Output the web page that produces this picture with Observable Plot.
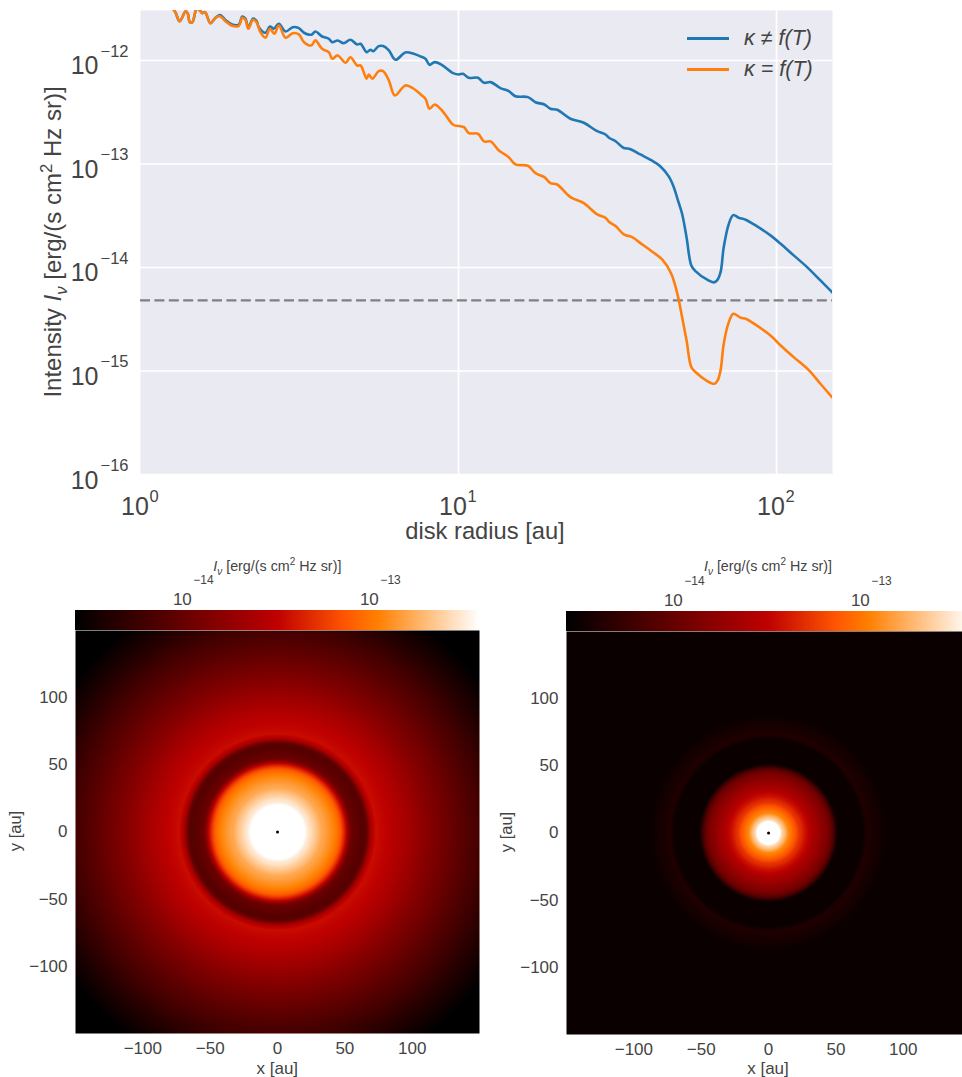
<!DOCTYPE html>
<html><head><meta charset="utf-8">
<script src="https://cdn.jsdelivr.net/npm/d3@7"></script>
<script src="https://cdn.jsdelivr.net/npm/@observablehq/plot@0.6"></script>
<style>
html,body{margin:0;padding:0;background:#fff;width:962px;height:1077px;overflow:hidden;font-family:"Liberation Sans",Arial,sans-serif;color:#444}
.p{position:absolute}
.t{position:absolute;white-space:nowrap;line-height:1}
.t sup{font-size:.7em;line-height:0}
.t sub{font-size:.7em;line-height:0}
.rot{transform:translate(-50%,-50%) rotate(-90deg)}
.ctr{transform:translate(-50%,-50%)}
.leg{position:absolute;height:2.6px}
</style></head><body>
<div id="root"></div>
<script>
// Radial intensity profiles: log10(radius / au), log10(I / erg/(s cm2 Hz sr))
const blueLogR = [.085,.108,.123,.142,.149,.155,.163,.173,.178,.189,.194,.203,.220,.236,.250,.267,.288,.309,.320,.330,.339,.354,.365,.372,.393,.407,.419,.435,.456,.479,.498,.514,.537,.550,.571,.592,.603,.620,.639,.660,.681,.692,.711,.723,.732,.749,.763,.781,.802,.833,.859,.881,.896,.909,.925,.946,.983,1.001,1.014,1.032,1.061,1.080,1.101,1.132,1.158,1.179,1.218,1.242,1.270,1.289,1.310,1.352,1.394,1.436,1.462,1.473,1.494,1.518,1.541,1.572,1.604,1.635,1.661,1.677,1.690,1.703,1.717,1.732,1.745,1.782,1.803,1.813,1.824,1.834,1.850,1.864,1.881,1.903,1.929,1.981,2.013,2.054,2.096,2.138,2.176,2.23,2.28,2.33];
const blueLogI = [-11.45,-11.524,-11.620,-11.524,-11.549,-11.630,-11.630,-11.524,-11.498,-11.524,-11.543,-11.533,-11.640,-11.587,-11.560,-11.608,-11.653,-11.653,-11.575,-11.595,-11.682,-11.595,-11.618,-11.678,-11.732,-11.671,-11.693,-11.645,-11.720,-11.678,-11.688,-11.732,-11.751,-11.720,-11.768,-11.790,-11.823,-11.807,-11.833,-11.800,-11.845,-11.839,-11.919,-11.896,-11.910,-11.861,-11.861,-11.903,-11.993,-11.922,-11.935,-11.961,-11.983,-12.042,-12.016,-12.039,-12.122,-12.135,-12.128,-12.167,-12.167,-12.215,-12.209,-12.267,-12.296,-12.345,-12.354,-12.403,-12.425,-12.466,-12.476,-12.563,-12.602,-12.683,-12.715,-12.747,-12.780,-12.843,-12.857,-12.908,-12.960,-13.024,-13.120,-13.224,-13.352,-13.481,-13.707,-13.980,-14.035,-14.118,-14.144,-14.125,-14.045,-13.803,-13.578,-13.494,-13.519,-13.539,-13.584,-13.690,-13.771,-13.883,-13.996,-14.125,-14.244,-14.45,-14.65,-14.85];
const orangeLogR = [.085,.108,.123,.142,.149,.155,.163,.173,.178,.189,.194,.203,.220,.236,.250,.267,.288,.309,.320,.330,.339,.354,.365,.377,.393,.407,.421,.435,.456,.479,.498,.514,.537,.550,.571,.592,.603,.620,.645,.660,.681,.692,.711,.718,.729,.749,.763,.781,.800,.833,.859,.881,.896,.909,.925,.946,.964,.983,1.017,1.032,1.061,1.080,1.101,1.127,1.158,1.179,1.218,1.242,1.270,1.289,1.310,1.352,1.394,1.436,1.462,1.473,1.494,1.520,1.546,1.572,1.604,1.641,1.669,1.688,1.703,1.717,1.732,1.745,1.782,1.805,1.815,1.824,1.834,1.850,1.864,1.887,1.903,1.929,1.981,2.013,2.054,2.102,2.138,2.176];
const orangeLogI = [-11.45,-11.524,-11.620,-11.524,-11.549,-11.630,-11.630,-11.524,-11.498,-11.524,-11.543,-11.533,-11.640,-11.587,-11.572,-11.620,-11.665,-11.665,-11.587,-11.607,-11.694,-11.607,-11.630,-11.726,-11.780,-11.693,-11.742,-11.662,-11.780,-11.736,-11.748,-11.823,-11.855,-11.806,-11.887,-11.919,-11.983,-11.951,-12.022,-11.968,-12.048,-12.048,-12.176,-12.135,-12.176,-12.103,-12.103,-12.193,-12.338,-12.241,-12.273,-12.328,-12.370,-12.466,-12.425,-12.476,-12.547,-12.621,-12.644,-12.702,-12.708,-12.782,-12.782,-12.869,-12.934,-13.004,-13.017,-13.088,-13.127,-13.185,-13.198,-13.320,-13.378,-13.487,-13.519,-13.558,-13.600,-13.680,-13.706,-13.765,-13.835,-13.925,-14.060,-14.253,-14.479,-14.704,-14.962,-15.010,-15.097,-15.123,-15.091,-14.994,-14.736,-14.528,-14.447,-14.485,-14.495,-14.543,-14.656,-14.753,-14.866,-14.994,-15.123,-15.258];
const detectionLogI = -14.318;
const noiseFloorLogI = -14.565;
const intensityDecades = [-12,-13,-14,-15,-16];
const radiusDecades = [0,1,2];
const colorbarDecades = [-14,-13];
const axisTicks = [-100,-50,0,50,100];
const colorLogMin = -14.63, colorLogMax = -12.47;
const colors = {blue:"#1f77b4", orange:"#ff7f0e"};
const FONT = '"Liberation Sans",Arial,sans-serif';
const INK = "#444";

const root = document.getElementById("root");
function place(svg,x,y){ const d=document.createElement("div"); d.className="p"; d.style.left=x+"px"; d.style.top=y+"px"; d.append(svg); root.append(d); }
function label(html,x,y,size,cls){ const d=document.createElement("div"); d.className="t "+(cls||""); d.innerHTML=html; d.style.left=x+"px"; d.style.top=y+"px"; d.style.fontSize=size+"px"; root.append(d); return d; }

// ---- top line chart ----
const rows = (lr,li)=>lr.map((r,i)=>({r:10**r,I:10**li[i]}));
const line = Plot.plot({
  width:962, height:545, marginLeft:140, marginRight:130, marginTop:10, marginBottom:71,
  style:{fontFamily:FONT, background:"transparent", color:INK},
  x:{type:"log", domain:[1,10**2.176]},
  y:{type:"log", domain:[1e-16,10**-11.517]},
  marks:[
    Plot.frame({fill:"#eaeaf2", stroke:null}),
    Plot.ruleX(radiusDecades.slice(1).map(d=>10**d),{stroke:"#fff",strokeWidth:1.7}),
    Plot.ruleY(intensityDecades.map(d=>10**d),{stroke:"#fff",strokeWidth:1.7}),
    Plot.ruleY([10**detectionLogI],{stroke:"#808080",strokeWidth:2.3,strokeDasharray:"10,4.4"}),
    Plot.line(rows(blueLogR,blueLogI),{x:"r",y:"I",stroke:colors.blue,strokeWidth:2.6,clip:true,curve:"catmull-rom"}),
    Plot.line(rows(orangeLogR,orangeLogI),{x:"r",y:"I",stroke:colors.orange,strokeWidth:2.6,clip:true,curve:"catmull-rom"}),
    Plot.axisY(intensityDecades.map(d=>10**d),{tickSize:0,tickPadding:42,tickFormat:()=>"10",fontSize:25,dy:6,label:null}),
    Plot.text(intensityDecades,{y:d=>10**d,frameAnchor:"left",textAnchor:"start",text:d=>"−"+Math.abs(d),fontSize:16.5,dx:-40,dy:-9,fill:INK}),
    Plot.axisX(radiusDecades.map(d=>10**d),{tickSize:0,tickPadding:23,tickFormat:()=>"10",fontSize:25,dx:-5.5,label:null}),
    Plot.text(radiusDecades,{x:d=>10**d,frameAnchor:"bottom",textAnchor:"start",text:d=>String(d),fontSize:16.5,dx:9,dy:27,fill:INK})
  ]
});
place(line,0,0);

// ---- gist_heat colour map ----
const gistHeat = d3.scaleLinear().domain([0,.5,.667,.75,1]).range(["#000000","#bf0000","#ff5500","#ff8000","#ffffff"]).clamp(true);
const colorOpt = {type:"log", domain:[10**colorLogMin,10**colorLogMax], interpolate:t=>gistHeat(t), clamp:true};

function profile(lr,li,floor){
  return (x,y)=>{
    const r=Math.hypot(x,y), l=Math.log10(Math.max(r,.01));
    const i=d3.bisectRight(lr,l);
    let v;
    if(i<=0) v=li[0]; else if(i>=lr.length) v=li[lr.length-1];
    else { const t=(l-lr[i-1])/(lr[i]-lr[i-1]); v=li[i-1]+t*(li[i]-li[i-1]); }
    return 10**Math.max(v,floor);
  };
}

function panel(lr,li,floor,left,top,xMax){
  const w=Math.round((xMax+150)*1.3467);
  const xD=[-150,xMax];
  // colour bar
  const N=404;
  const steps=d3.range(0,N);
  const span=colorLogMax-colorLogMin;
  const barX=[10**colorLogMin,10**(colorLogMin+span*w/404)];
  const bar=Plot.plot({
    width:w,height:70,marginLeft:0,marginRight:0,marginTop:50,marginBottom:0,
    style:{fontFamily:FONT,background:"transparent",color:INK},
    x:{type:"log",domain:barX,axis:null},
    y:{axis:null},
    color:colorOpt,
    marks:[
      Plot.rectY(steps,{x1:i=>10**(colorLogMin+(i/N)*span),x2:i=>10**(colorLogMin+((i+1)/N)*span),y1:0,y2:1,fill:i=>10**(colorLogMin+((i+.5)/N)*span),clip:true,inset:0,shapeRendering:"crispEdges"}),
      Plot.axisX(colorbarDecades.map(d=>10**d),{anchor:"top",tickSize:0,tickPadding:6,tickFormat:()=>"10",fontSize:17,dx:-11,label:null}),
      Plot.text(colorbarDecades,{x:d=>10**d,frameAnchor:"top",textAnchor:"start",text:d=>"−"+Math.abs(d),fontSize:12,dx:0,dy:-35,fill:INK})
    ]
  });
  place(bar,left,top-70);
  // image
  const img=Plot.plot({
    width:w+36,height:403+42,marginLeft:36,marginRight:0,marginTop:0,marginBottom:42,
    style:{fontFamily:FONT,background:"transparent",color:INK,overflow:"visible"},
    x:{domain:xD},
    y:{domain:[-150,150]},
    color:colorOpt,
    marks:[
      Plot.raster({x1:-150,x2:xMax,y1:-150,y2:150,pixelSize:1,fill:profile(lr,li,floor),imageRendering:"auto"}),
      Plot.dot([[0,0]],{x:d=>d[0],y:d=>d[1],r:1.5,fill:"#000"}),
      Plot.axisX(axisTicks,{tickSize:0,tickPadding:8,fontSize:17,label:null,tickFormat:d=>String(d).replace("-","−")}),
      Plot.axisY(axisTicks,{tickSize:0,tickPadding:8,fontSize:17,label:null,tickFormat:d=>String(d).replace("-","−")})
    ]
  });
  place(img,left-36,top);
  label('<i>I<sub>ν</sub></i> [erg/(s cm<sup>2</sup> Hz sr)]',left+202,566,14.3,"ctr");
  label('x [au]',left+202,1067.5,17,"ctr");
  label('y [au]',left-60,top+201,16.5,"rot");
}
panel(blueLogR,blueLogI,-99,75.3,629.5,150);
panel(orangeLogR,orangeLogI,noiseFloorLogI,566,631,144);

// titles & legend
label('Intensity <i>I<sub>ν</sub></i> [erg/(s cm<sup>2</sup> Hz sr)]',53,242,24,"rot");
label('disk radius [au]',485,532,23.7,"ctr");
for(const [c,y,txt] of [[colors.blue,37,'κ ≠ <i>f</i>(<i>T</i>)'],[colors.orange,68,'κ = <i>f</i>(<i>T</i>)']]){
  const l=document.createElement("div"); l.className="leg"; l.style.cssText+=`left:687px;top:${y}px;width:42px;background:${c}`; root.append(l);
  label(`<i>${txt}</i>`,744,y-9.5,21.5);
}
</script>
</body></html>
